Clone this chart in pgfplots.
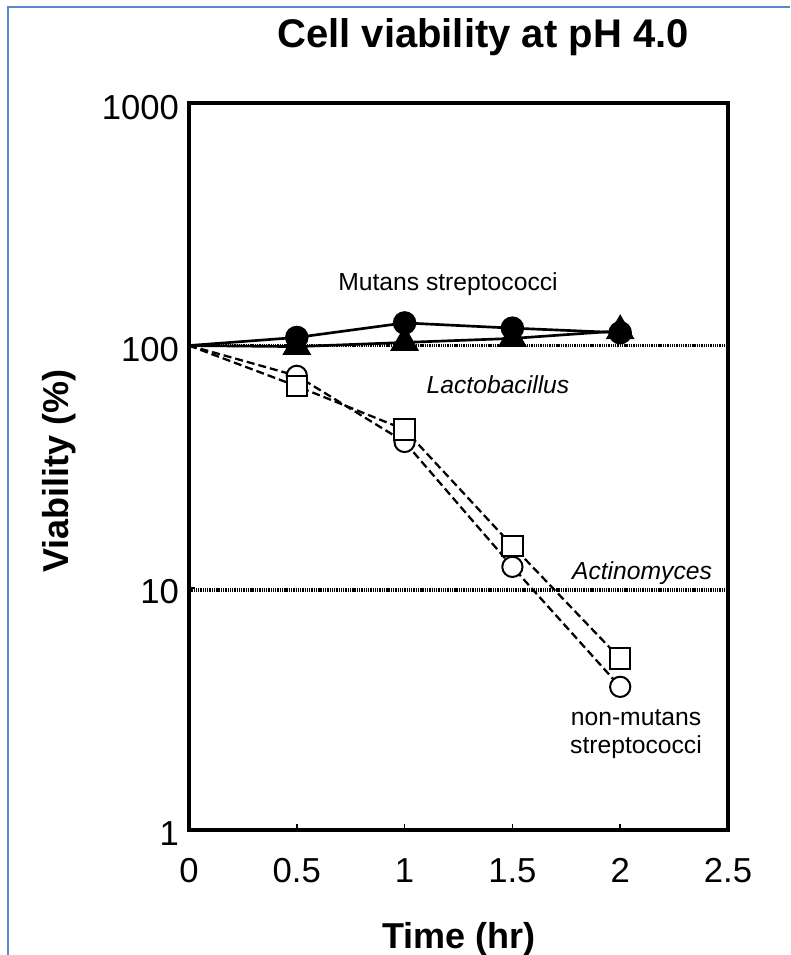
\documentclass[border=0pt]{standalone}
\usepackage{fontspec}
\setmainfont{Liberation Sans}
\usepackage{pgfplots}
\pgfplotsset{compat=1.18}
\definecolor{frameblue}{HTML}{5A88C8}
\begin{document}
\begin{tikzpicture}[x=0.75pt,y=0.75pt]
\path[use as bounding box] (0,0) rectangle (790,955);
\draw[frameblue,line width=1.6pt] (8,0) -- (8,948) -- (790,948);
\begin{axis}[
  at={(141.75pt,93.75pt)}, anchor=south west,
  scale only axis, width=404.25pt, height=545pt,
  xmin=0, xmax=2.5, ymode=log, ymin=1, ymax=1000,
  xtick={0,0.5,1,1.5,2,2.5},
  xticklabels={0,0.5,1,1.5,2,2.5},
  ytick={1,10,100,1000},
  yticklabels={1,10,100,1000},
  minor tick num=0,
  yminorticks=false,
  xtick pos=bottom, ytick pos=left,
  tick align=inside, major tick length=4.5pt,
  tick style={line width=1.2pt, black},
  axis line style={line width=2.8pt},
  tick label style={font=\fontsize{26}{26}\selectfont},
  xticklabel style={yshift=-18pt},
  yticklabel style={xshift=-4pt, yshift=-3pt},
  clip=false,
]
% reference lines
\addplot[black, line width=2.6pt, dash pattern=on 1pt off 0.7pt] coordinates {(0,100) (2.5,100)};
\addplot[black, line width=2.6pt, dash pattern=on 1pt off 0.7pt] coordinates {(0,9.8) (2.5,9.8)};
% non-mutans streptococci
\addplot[black, line width=1.7pt, dash pattern=on 6pt off 3pt,
  mark=*, mark size=7.6pt, mark indices={2,3,4,5}, mark options={solid, fill=white, draw=black, line width=1.5pt}]
  coordinates {(0,100) (0.5,75) (1,40) (1.5,12.2) (2,3.9)};
\addplot[black, line width=1.7pt, dash pattern=on 6pt off 3pt,
  mark=square*, mark size=7.6pt, mark indices={2,3,4,5}, mark options={solid, fill=white, draw=black, line width=1.5pt}]
  coordinates {(0,100) (0.5,68) (1,45) (1.5,14.9) (2,5.1)};
% mutans streptococci
\addplot[black, line width=2pt, mark=triangle*, mark size=10.5pt, mark indices={2,3,4,5}, mark options={fill=black}]
  coordinates {(0,100) (0.5,99) (1,103) (1.5,107) (2,115)};
\addplot[black, line width=2pt, mark=*, mark size=7.8pt, mark indices={2,3,4,5}, mark options={fill=black}]
  coordinates {(0,100) (0.5,108) (1,124) (1.5,118) (2,113)};
\end{axis}
\node[anchor=base, font=\fontsize{30}{30}\selectfont\bfseries] at (483,907) {Cell viability at pH 4.0};
\node[anchor=base, font=\fontsize{27}{27}\selectfont\bfseries] at (459,7) {Time (hr)};
\node[anchor=base, rotate=90, font=\fontsize{27}{27}\selectfont\bfseries] at (68,484) {Viability (\%)};
\node[font=\fontsize{18.5}{22}\selectfont] at (448,671) {Mutans streptococci};
\node[font=\fontsize{18.5}{22}\selectfont\itshape] at (498,570) {Lactobacillus};
\node[font=\fontsize{18.5}{22}\selectfont\itshape] at (642,382) {Actinomyces};
\node[align=center, font=\fontsize{18.5}{20.5}\selectfont] at (636,221) {non-mutans\\streptococci};
\end{tikzpicture}
\end{document}
